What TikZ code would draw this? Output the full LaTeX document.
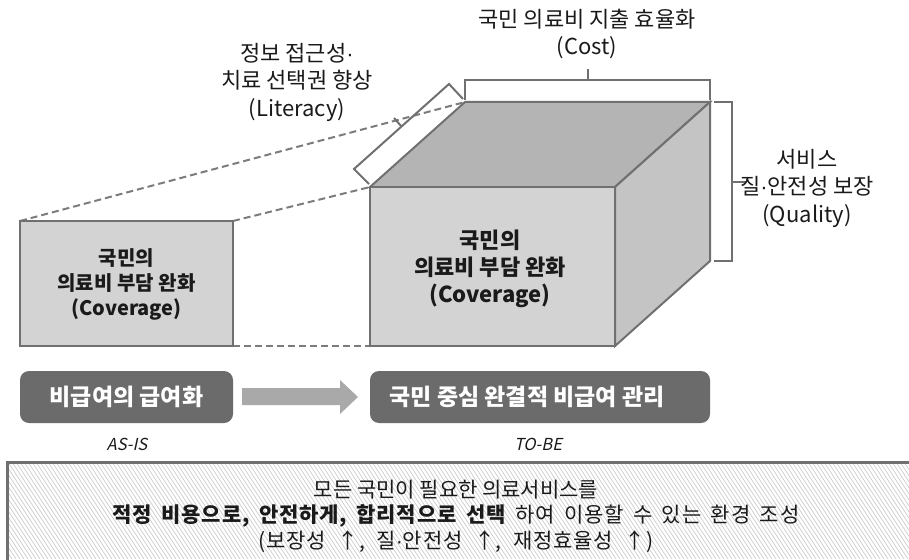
\documentclass[tikz,border=0pt]{standalone}
\usepackage{fontspec}
\setmainfont{Noto Sans CJK KR}
\newfontfamily\slfont[FakeSlant=0.22]{Noto Sans CJK KR}
\newfontfamily\widefont[LetterSpace=4]{Noto Sans CJK KR}
\newfontfamily\dotfont{Liberation Sans}
\newcommand{\mdot}{{\dotfont ·}}
\definecolor{edgegray}{HTML}{707070}
\definecolor{dashgray}{HTML}{7c7c7c}
\definecolor{frontgray}{HTML}{D3D3D3}
\definecolor{topgray}{HTML}{B4B4B4}
\definecolor{sidegray}{HTML}{C4C4C4}
\definecolor{btngray}{HTML}{6B6B6B}
\definecolor{arrowgray}{HTML}{A9A9A9}
\definecolor{hatchgray}{HTML}{CCCCCC}
\definecolor{txt}{HTML}{1A1A1A}
\tikzset{
  facebox/.style={draw=edgegray, line width=2pt, line join=miter},
  dashline/.style={draw=dashgray, line width=2pt, dash pattern=on 7pt off 4pt},
  brack/.style={draw=edgegray, line width=2pt},
  lbl/.style={align=center, text=txt, font=\fontsize{22}{27.5}\selectfont, inner sep=0pt},
  boxlbl/.style={align=center, text=txt, font=\fontsize{20}{25}\selectfont\bfseries, inner sep=0pt},
  cubelbl/.style={align=center, text=txt, font=\fontsize{22}{27}\selectfont\bfseries, inner sep=0pt},
  btntxt/.style={text=white, font=\fontsize{23}{25}\selectfont\bfseries, inner sep=0pt},
  phase/.style={text=txt, font=\fontsize{16.5}{18}\selectfont\slfont, inner sep=0pt},
  goal/.style={align=center, text=txt, font=\fontsize{21}{25.5}\selectfont, inner sep=0pt}
}
\begin{document}
\begin{tikzpicture}[x=1pt,y=-1pt]
\useasboundingbox (0,0) rectangle (909,559);
% corners
\coordinate (sTL) at (20,221);
\coordinate (sTR) at (233,221);
\coordinate (sBR) at (233,346);
\coordinate (sBL) at (20,346);
\coordinate (fTL) at (370,187);
\coordinate (fTR) at (615,187);
\coordinate (fBR) at (615,346);
\coordinate (fBL) at (370,346);
\coordinate (bTL) at (465,102);
\coordinate (bTR) at (710,102);
\coordinate (bBR) at (710,261);
% dashed projection lines
\draw[dashline] (sTL) -- (bTL);
\draw[dashline] (sTR) -- (fTL);
\draw[dashline] (sBR) -- (fBL);
% small box
\draw[facebox, fill=frontgray] (sTL) rectangle (sBR);
\node[boxlbl] (smalltxt) at (126.5,284) {국민의\\의료비 부담 완화\\(Coverage)};
% cube
\draw[facebox, fill=topgray] (fTL) -- (bTL) -- (bTR) -- (fTR) -- cycle;
\draw[facebox, fill=sidegray] (fTR) -- (bTR) -- (bBR) -- (fBR) -- cycle;
\draw[facebox, fill=frontgray] (fTL) rectangle (fBR);
\node[cubelbl] (cubetxt) at (490,269) {국민의\\의료비 부담 완화\\(Coverage)};
% literacy bracket
\draw[brack] (369,184) -- (354,169) -- (449,84) -- (463,99);
\draw[brack] (401.5,126.5) -- (394,118);
\node[lbl] (littxt) at (297,82) {정보 접근성\mdot\\치료 선택권 향상\\(Literacy)};
% cost bracket
\draw[brack] (465,100) -- (465,80) -- (710,80) -- (710,100);
\draw[brack] (587.5,80) -- (587.5,69);
\node[lbl] (costtxt) at (587,34) {국민 의료비 지출 효율화\\(Cost)};
% quality bracket
\draw[brack] (714,102) -- (732,102) -- (732,261) -- (714,261);
\draw[brack] (732,181.5) -- (746,181.5);
\node[lbl] (qualtxt) at (807,188) {서비스\\질\mdot 안전성 보장\\(Quality)};
% buttons
\fill[btngray, rounded corners=9pt] (20,371) rectangle (233,423);
\node[btntxt] (asis) at (126.5,397) {비급여의 급여화};
\fill[btngray, rounded corners=9pt] (370,371) rectangle (710,423);
\node[btntxt] (tobe) at (527,397) {국민 중심 완결적 비급여 관리};
\fill[arrowgray] (242,388) -- (340,388) -- (340,380) -- (358,397) -- (340,414) -- (340,405) -- (242,405) -- cycle;
\node[phase] (asislbl) at (127,444) {AS-IS};
\node[phase] (tobelbl) at (538,444) {TO-BE};
% goal box with hatching
\begin{scope}
\clip (7,462) rectangle (909,559);
\foreach \x in {-80,-76,...,912} {
  \draw[hatchgray, line width=0.7pt] (\x,462) -- (\x+64,559);
}
\end{scope}
\draw[draw=edgegray, line width=3pt] (7,570) -- (7,462) -- (915,462);
\node[goal] (goaltxt) at (456,516) {모든 국민이 필요한 의료서비스를\\{\widefont\spaceskip=9.5pt\bfseries 적정 비용으로, 안전하게, 합리적으로 선택}{\widefont\spaceskip=9.5pt{} 하여 이용할 수 있는 환경 조성}\\{\widefont\spaceskip=11.5pt (보장성 ↑, 질\mdot 안전성 ↑, 재정효율성 ↑)}};
\end{tikzpicture}
\end{document}
